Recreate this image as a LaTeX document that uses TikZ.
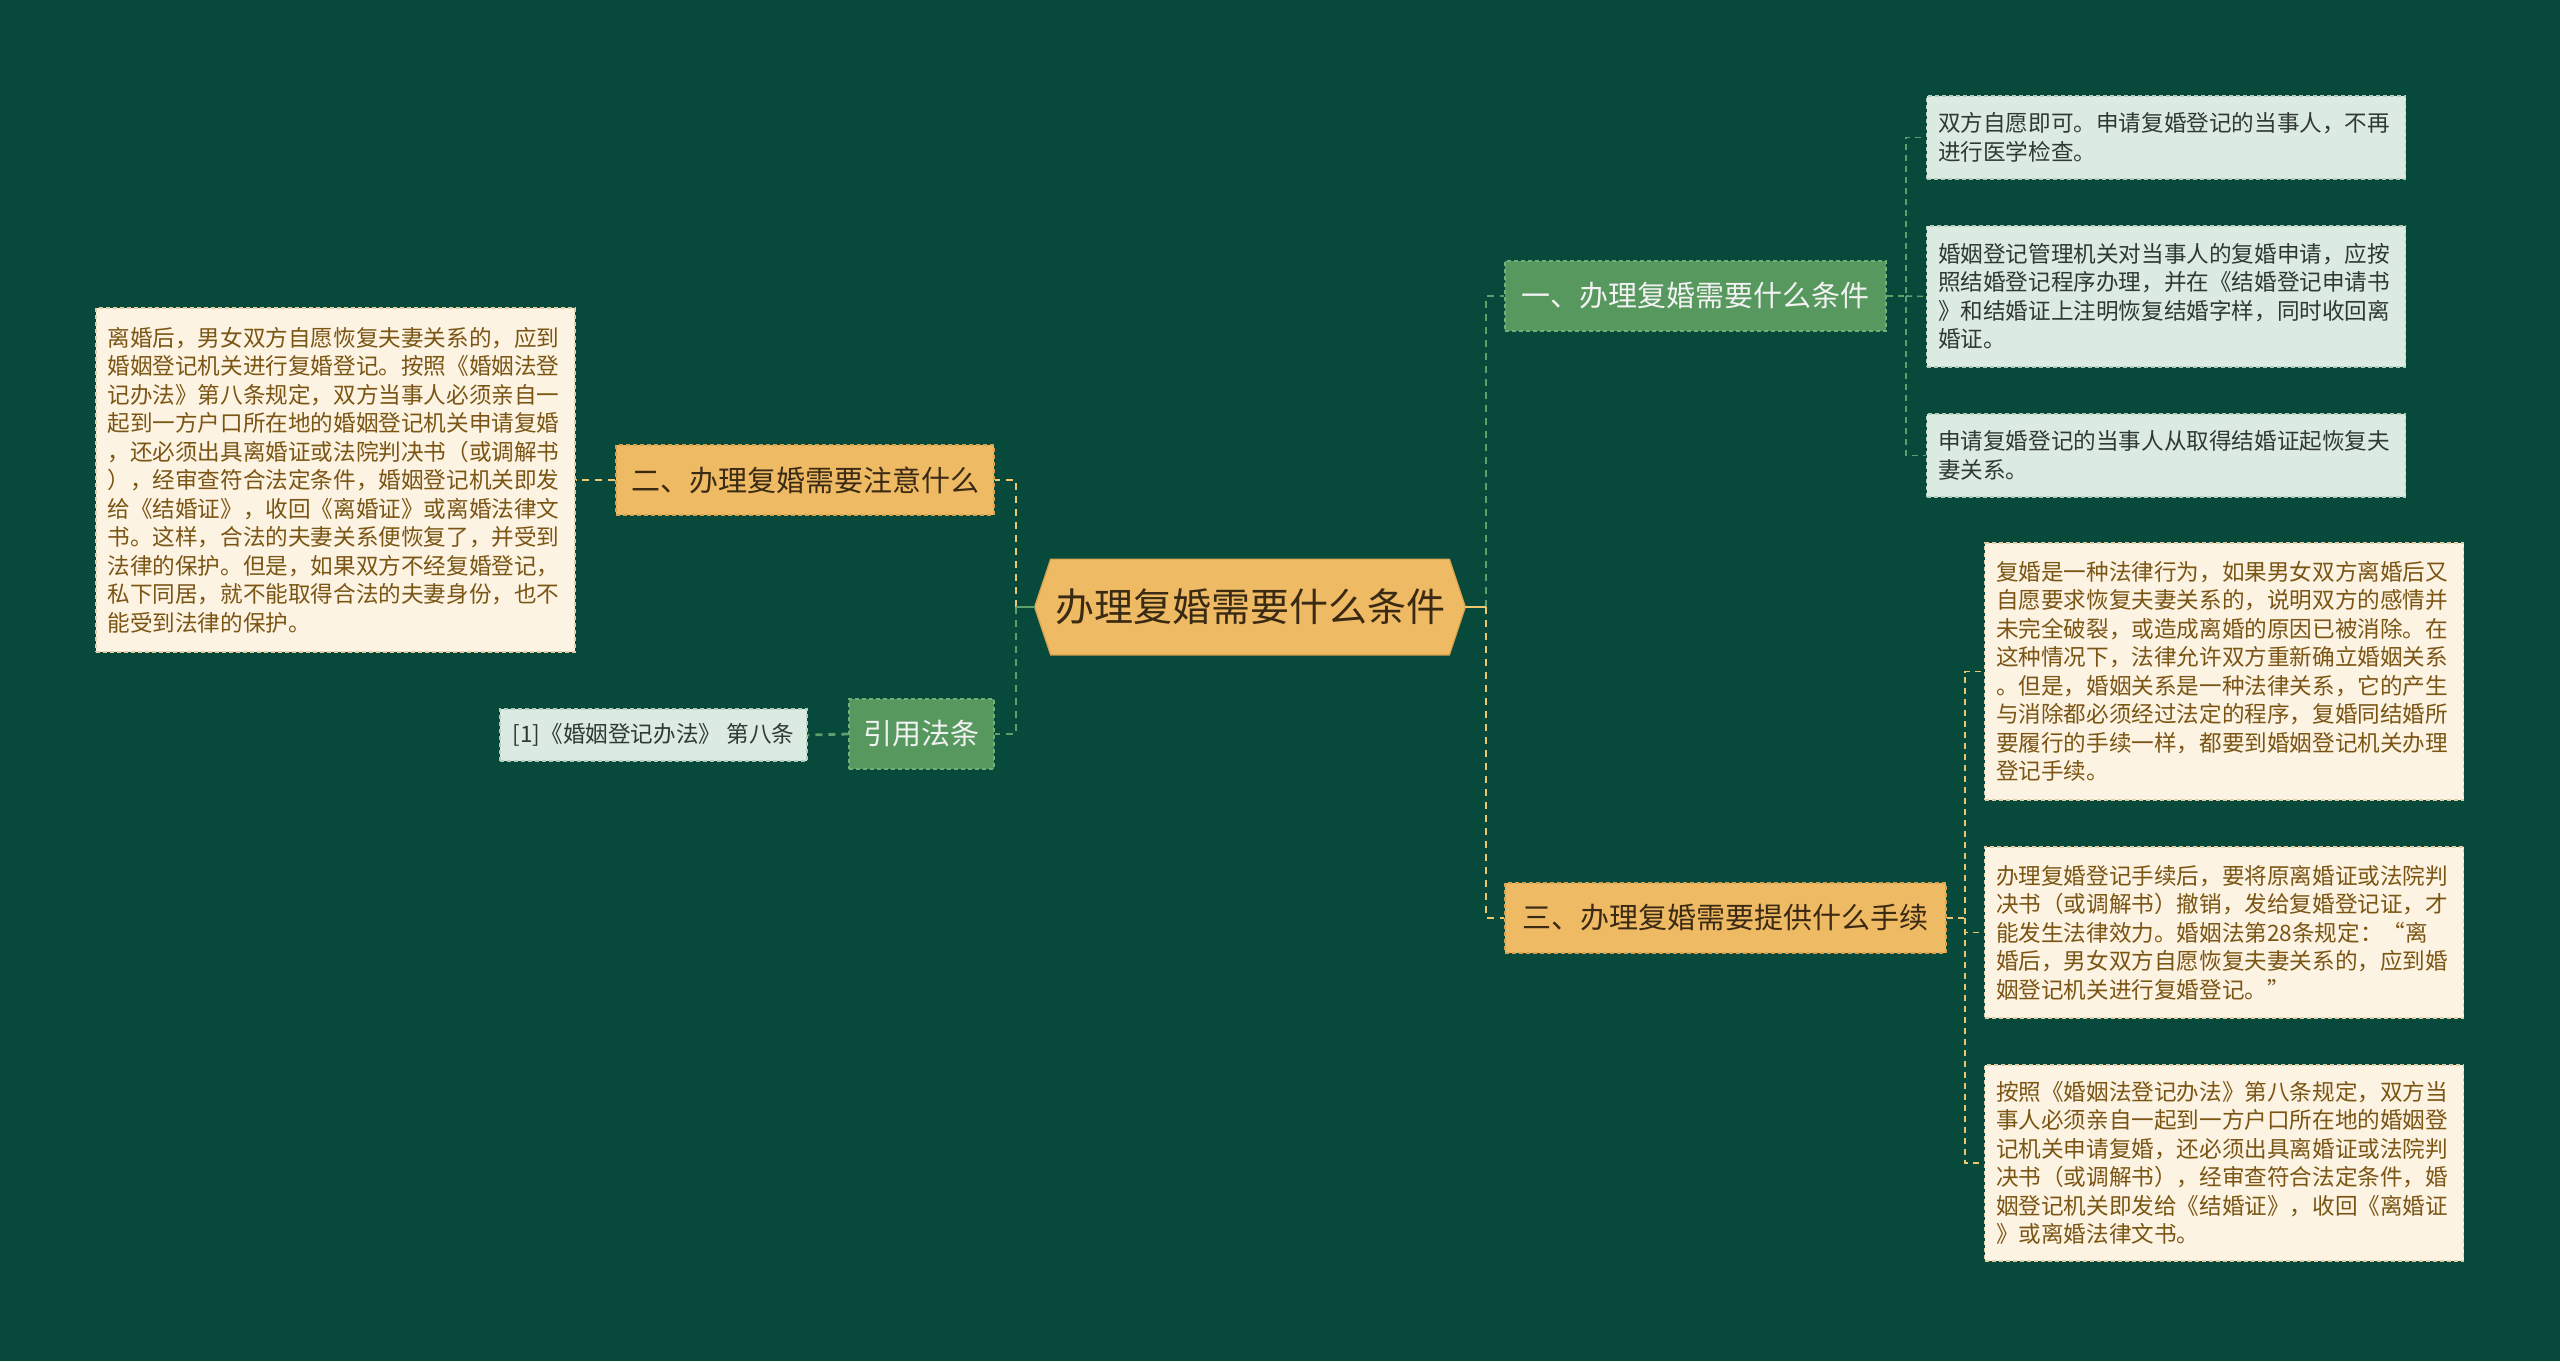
\documentclass[tikz,border=0pt]{standalone}
\usepackage{fontspec}
\newfontfamily\cjk{Noto Sans CJK SC}
\usetikzlibrary{backgrounds}
\definecolor{bg}{HTML}{07493A}
\definecolor{yfill}{HTML}{EFBA64}
\definecolor{yborder}{HTML}{D9A24E}
\definecolor{gfill}{HTML}{56985E}
\definecolor{gborder}{HTML}{6FAE76}
\definecolor{cream}{HTML}{FDF3E2}
\definecolor{creamborder}{HTML}{E2CDA6}
\definecolor{lgreen}{HTML}{DCEBE1}
\definecolor{lgreenborder}{HTML}{B5CDBD}
\definecolor{browntext}{HTML}{7A5514}
\definecolor{darktext}{HTML}{2F3833}
\definecolor{hextext}{HTML}{3A2A14}
\definecolor{lineY}{HTML}{EEC66E}
\definecolor{lineG}{HTML}{5FA06A}
\begin{document}
\begin{tikzpicture}[x=0.5pt,y=-0.5pt,
  every node/.style={inner sep=0pt},
  smalltxt/.style={font=\cjk\fontsize{11.3pt}{14.25pt}\selectfont, align=left, text width=228pt, minimum width=239.5pt},
  creambox/.style={smalltxt, fill=cream, draw=creamborder, line width=0.6pt, dash pattern=on 2pt off 1.5pt, text=browntext},
  greenbox/.style={smalltxt, fill=lgreen, draw=lgreenborder, line width=0.6pt, dash pattern=on 2pt off 1.5pt, text=darktext},
  bigtxt/.style={font=\cjk\fontsize{14.5pt}{17pt}\selectfont, minimum height=35pt, line width=0.6pt, dash pattern=on 2pt off 1.5pt},
  ynode/.style={bigtxt, fill=yfill, draw=yborder, text=hextext},
  gnode/.style={bigtxt, fill=gfill, draw=gborder, text=white!95!black},
  ylink/.style={draw=lineY, line width=1.4pt, dash pattern=on 3.5pt off 3pt},
  glink/.style={draw=lineG, line width=1.4pt, dash pattern=on 3.5pt off 3pt},
  ysub/.style={draw=lineY, line width=0.8pt, dash pattern=on 3pt off 2.5pt},
  gsub/.style={draw=lineG, line width=0.8pt, dash pattern=on 3pt off 2.5pt}
]
\useasboundingbox (0,0) rectangle (2560,1361);

% central node
\node[font=\cjk\fontsize{19.5pt}{22pt}\selectfont, text=hextext, minimum width=215pt, minimum height=47.5pt] (hex) at (1250,607) {办理复婚需要什么条件};

% level-1 nodes
\node[ynode, minimum width=189pt] (er) at (805,480) {二、办理复婚需要注意什么};
\node[gnode, minimum width=72.5pt] (yy) at (921.5,734) {引用法条};
\node[gnode, minimum width=190.5pt] (n1) at (1695.5,296) {一、办理复婚需要什么条件};
\node[ynode, minimum width=220.5pt] (n3) at (1725.5,918) {三、办理复婚需要提供什么手续};

% left leaves
\node[creambox, minimum height=172pt] (lbox) at (335.5,480) {离婚后，男女双方自愿恢复夫妻关系的，应到\\婚姻登记机关进行复婚登记。按照《婚姻法登\\记办法》第八条规定，双方当事人必须亲自一\\起到一方户口所在地的婚姻登记机关申请复婚\\，还必须出具离婚证或法院判决书（或调解书\\），经审查符合法定条件，婚姻登记机关即发\\给《结婚证》，收回《离婚证》或离婚法律文\\书。这样，合法的夫妻关系便恢复了，并受到\\法律的保护。但是，如果双方不经复婚登记，\\私下同居，就不能取得合法的夫妻身份，也不\\能受到法律的保护。};
\node[font=\cjk\fontsize{11.3pt}{14.25pt}\selectfont, fill=lgreen, draw=lgreenborder, line width=0.6pt, dash pattern=on 2pt off 1.5pt, text=darktext, minimum width=153.5pt, minimum height=26pt] (ref) at (653.5,735) {[1]《婚姻登记办法》 第八条};

% right leaves of n1
\node[greenbox, minimum height=41.5pt] (ba) at (2166,137.5) {双方自愿即可。申请复婚登记的当事人，不再\\进行医学检查。};
\node[greenbox, minimum height=70.5pt] (bb) at (2166,296.5) {婚姻登记管理机关对当事人的复婚申请，应按\\照结婚登记程序办理，并在《结婚登记申请书\\》和结婚证上注明恢复结婚字样，同时收回离\\婚证。};
\node[greenbox, minimum height=41.5pt] (bc) at (2166,455.5) {申请复婚登记的当事人从取得结婚证起恢复夫\\妻关系。};

% right leaves of n3
\node[creambox, minimum height=128.5pt] (bd) at (2224,671.5) {复婚是一种法律行为，如果男女双方离婚后又\\自愿要求恢复夫妻关系的，说明双方的感情并\\未完全破裂，或造成离婚的原因已被消除。在\\这种情况下，法律允许双方重新确立婚姻关系\\。但是，婚姻关系是一种法律关系，它的产生\\与消除都必须经过法定的程序，复婚同结婚所\\要履行的手续一样，都要到婚姻登记机关办理\\登记手续。};
\node[creambox, minimum height=85.5pt] (be) at (2224,932.5) {办理复婚登记手续后，要将原离婚证或法院判\\决书（或调解书）撤销，发给复婚登记证，才\\能发生法律效力。婚姻法第28条规定：“离\\婚后，男女双方自愿恢复夫妻关系的，应到婚\\姻登记机关进行复婚登记。”};
\node[creambox, minimum height=98pt] (bf) at (2224,1163) {按照《婚姻法登记办法》第八条规定，双方当\\事人必须亲自一起到一方户口所在地的婚姻登\\记机关申请复婚，还必须出具离婚证或法院判\\决书（或调解书），经审查符合法定条件，婚\\姻登记机关即发给《结婚证》，收回《离婚证\\》或离婚法律文书。};

% junctions
\coordinate (jl) at (1016,607);
\coordinate (jr) at (1486,607);
\coordinate (j1) at (1906,296);
\coordinate (j3) at (1965,918);

% connectors
\draw[ylink] (jl) |- (er.east);
\draw[glink] (jl) |- (yy.east);
\draw[lineG, line width=1.4pt] (hex.west) -- (jl);
\draw[glink] (jr) |- (n1.west);
\draw[ylink] (jr) |- (n3.west);
\draw[lineY, line width=1.4pt] (hex.east) -- (jr);
\draw[ylink] (er.west) -- (lbox.east);
\draw[glink] (yy.west) -- (ref.east);
\draw[gsub] (n1.east) -- (j1) |- (ba.west);
\draw[gsub] (j1) -- (bb.west);
\draw[gsub] (j1) |- (bc.west);
\draw[ysub] (n3.east) -- (j3) |- (bd.west);
\draw[ysub] (j3) |- (be.west);
\draw[ysub] (j3) |- (bf.west);

\begin{scope}[on background layer]
\fill[bg] (0,0) rectangle (2560,1361);
\path[fill=yfill, draw=yborder, line width=0.6pt] (hex.west) -- ([xshift=8pt]hex.north west) -- ([xshift=-8pt]hex.north east) -- (hex.east) -- ([xshift=-8pt]hex.south east) -- ([xshift=8pt]hex.south west) -- cycle;
\end{scope}
\end{tikzpicture}
\end{document}
